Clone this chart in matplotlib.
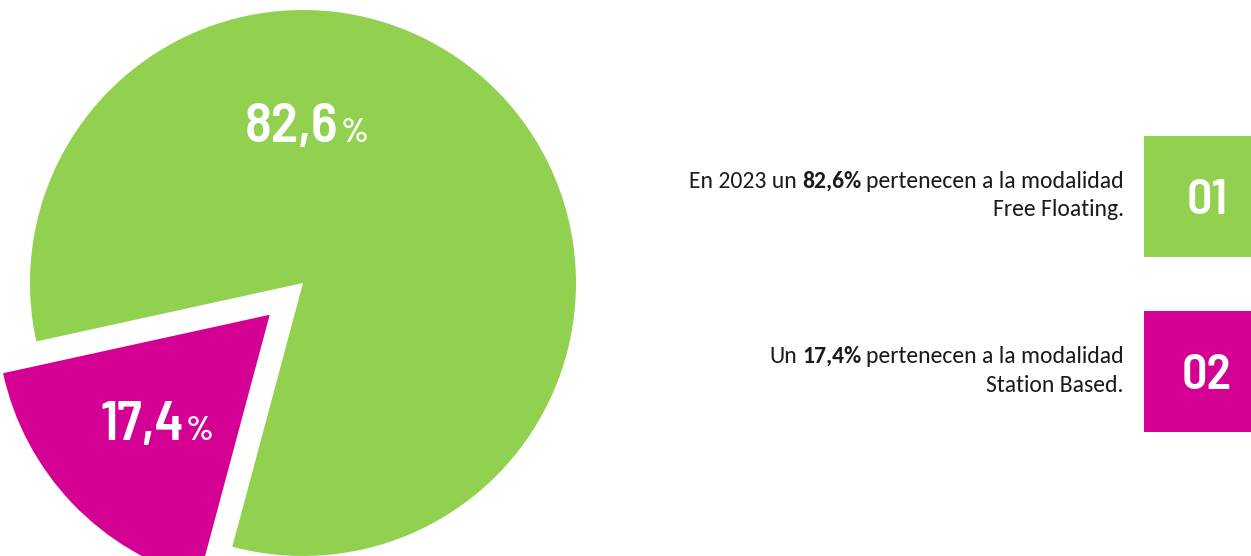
import matplotlib
matplotlib.use("Agg")
import matplotlib.pyplot as plt
from matplotlib.patches import Rectangle

# ---- data ----
categories = ["Free Floating", "Station Based"]
shares = [82.6, 17.4]
colors = ["#92D050", "#D40093"]
box_labels = ["01", "02"]
year = "2023"

W, H = 1251, 556
fig = plt.figure(figsize=(W / 100, H / 100), dpi=100)
ax = fig.add_axes([0, 0, 1, 1])

R = 273
cx, cy = 303, H - 283
wedges, _ = ax.pie(shares, colors=colors, startangle=255.0, counterclock=True,
                   center=(cx, cy), radius=R, explode=[0, 46],
                   wedgeprops=dict(linewidth=0))
ax.set_xlim(0, W)
ax.set_ylim(0, H)
ax.set_aspect("equal")
ax.axis("off")

def fmt(v):
    return f"{v:.1f}".replace(".", ",")

NUMFONT = "Barlow Semi Condensed"
# pie labels: number big + smaller percent sign
label_pos = [(245, H - 142), (100, H - 440)]  # left x, baseline y
for v, (lx, ly) in zip(shares, label_pos):
    t = ax.text(lx, ly, fmt(v), family=NUMFONT, weight=600, fontsize=40,
                color="white", ha="left", va="baseline")
    ax.annotate("%", xy=(1, ly), xycoords=(t, "data"), xytext=(2, 0),
                textcoords="offset pixels", family=NUMFONT, weight=600,
                fontsize=25, color="white", ha="left", va="baseline")

# right-side boxes
box_tops = [136, 311]
for lab, top, col in zip(box_labels, box_tops, colors):
    ax.add_patch(Rectangle((1144, H - top - 121), 121, 121, facecolor=col,
                           edgecolor="none", clip_on=True))
    ax.text(1207, H - top - 78, lab, family=NUMFONT, weight=600, fontsize=36,
            color="white", ha="center", va="baseline")

# descriptive text (Carlito ~ Calibri), right aligned with bold share
BODY = "Carlito"
fs = 17.0
tc = "#1a1a1a"
xr = 1124
lines = [
    (f"En {year} un ", fmt(shares[0]) + "%", " pertenecen a la modalidad",
     categories[0] + ".", 188, 216),
    ("Un ", fmt(shares[1]) + "%", " pertenecen a la modalidad",
     categories[1] + ".", 363, 392),
]
for pre, bold, post, line2, b1, b2 in lines:
    t3 = ax.text(xr, H - b1, post.strip(), family=BODY, fontsize=fs, color=tc,
                 ha="right", va="baseline")
    t2 = ax.annotate(bold, xy=(0, H - b1), xycoords=(t3, "data"), xytext=(-5, 0),
                     textcoords="offset pixels", family=BODY, weight="bold",
                     fontsize=fs, color=tc, ha="right", va="baseline")
    ax.annotate(pre.strip(), xy=(0, H - b1), xycoords=(t2, "data"), xytext=(-5, 0),
                textcoords="offset pixels", family=BODY, fontsize=fs, color=tc,
                ha="right", va="baseline")
    ax.text(xr, H - b2, line2, family=BODY, fontsize=fs, color=tc,
            ha="right", va="baseline")

fig.savefig("out.png", dpi=100)
